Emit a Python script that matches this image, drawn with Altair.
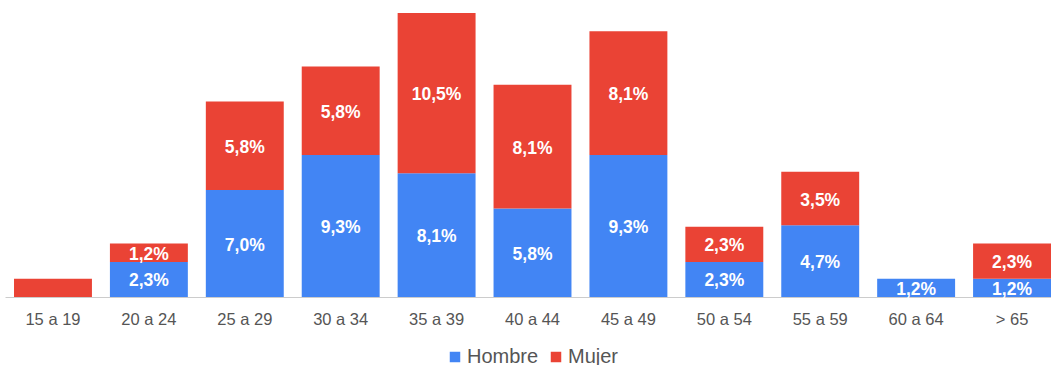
import altair as alt
import pandas as pd

categories = ["15 a 19", "20 a 24", "25 a 29", "30 a 34", "35 a 39", "40 a 44",
              "45 a 49", "50 a 54", "55 a 59", "60 a 64", "> 65"]
hombre = [0.0, 2.3, 7.0, 9.3, 8.1, 5.8, 9.3, 2.3, 4.7, 1.2, 1.2]
mujer = [1.2, 1.2, 5.8, 5.8, 10.5, 8.1, 8.1, 2.3, 3.5, 0.0, 2.3]
series = ["Hombre", "Mujer"]
colors = ["#4285F4", "#EA4335"]
hidden_labels = [("15 a 19", "Mujer")]

rows = []
for i, c in enumerate(categories):
    for s, vals in zip(series, [hombre, mujer]):
        v = vals[i]
        if v <= 0:
            continue
        lab = "" if (c, s) in hidden_labels else f"{v:.1f}%".replace(".", ",")
        rows.append({"cat": c, "serie": s, "ord": series.index(s), "val": v, "label": lab})
df = pd.DataFrame(rows)

FONT = "Liberation Sans"

base = alt.Chart(df).transform_stack(
    stack="val", groupby=["cat"], as_=["y0", "y1"],
    sort=[alt.SortField("ord", order="ascending")]
).transform_calculate(mid="(datum.y0 + datum.y1) / 2")

xscale = alt.Scale(paddingInner=0.1875, paddingOuter=0.047, align=1)
x = alt.X("cat:N", sort=categories, title=None, scale=xscale,
          axis=alt.Axis(labelAngle=0, labelFont=FONT, labelFontSize=16.5,
                        labelColor="#555555", ticks=False, domainColor="#cccccc",
                        labelPadding=14))
yscale = alt.Scale(domain=[0, 18.6], nice=False, zero=True)

bars = base.mark_bar(stroke=None).encode(
    x=x,
    y=alt.Y("y0:Q", scale=yscale, axis=None),
    y2="y1:Q",
    color=alt.Color("serie:N", scale=alt.Scale(domain=series, range=colors),
                    legend=alt.Legend(title=None, orient="none", direction="horizontal",
                                      legendX=440, legendY=334, symbolType="square",
                                      symbolSize=110, labelFont=FONT, labelFontSize=20,
                                      labelColor="#555555", columnPadding=7,
                                      symbolOffset=0, labelOffset=2)),
)

texts = base.mark_text(font=FONT, fontSize=17.5, fontWeight="bold", color="white",
                       baseline="middle", align="center", dy=2).encode(
    x=alt.X("cat:N", sort=categories, scale=xscale),
    y=alt.Y("mid:Q", scale=yscale),
    text="label:N",
)

chart = alt.layer(bars, texts).properties(
    width=1046, height=284,
    padding={"left": 5, "right": 0, "top": 13, "bottom": 0},
    background="white",
).configure_view(stroke=None)

chart.save("out.html", embed_options={"renderer": "svg", "actions": False})
